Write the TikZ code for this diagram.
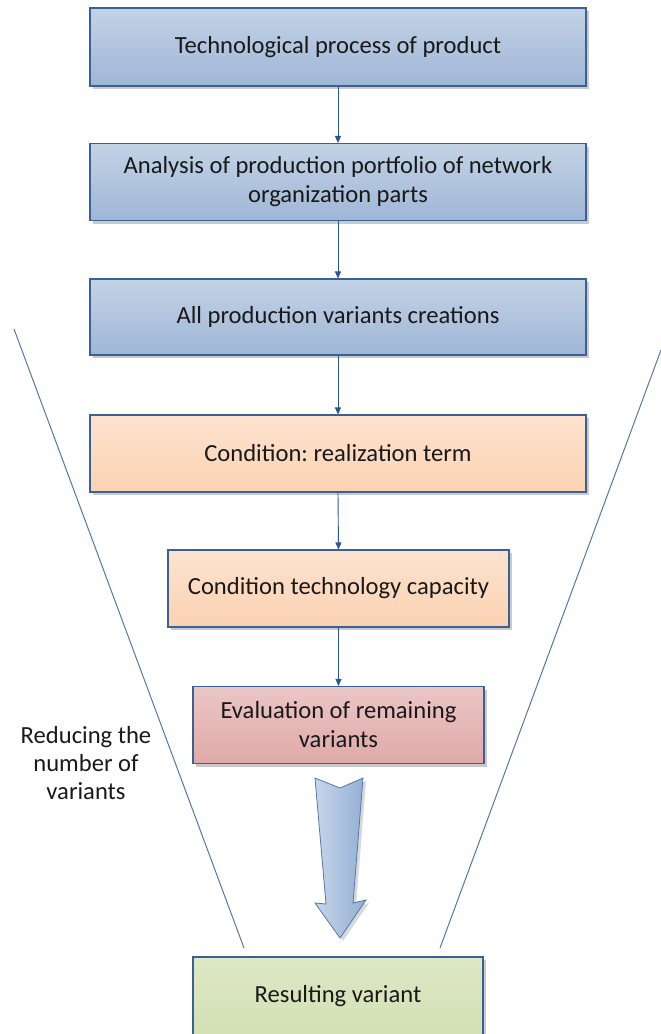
\documentclass[tikz,border=0pt]{standalone}
\usepackage{fontspec}
\setmainfont{Carlito}
\frenchspacing
\usetikzlibrary{arrows.meta,shadows,calc}
\definecolor{bluetop}{HTML}{C3D3E6}
\definecolor{bluebot}{HTML}{9FB6D6}
\definecolor{blueedge}{HTML}{3B6194}
\definecolor{orgtop}{HTML}{FDE3CF}
\definecolor{orgbot}{HTML}{FBD2B2}
\definecolor{pinktop}{HTML}{EBC6C6}
\definecolor{pinkbot}{HTML}{E0A9A9}
\definecolor{grntop}{HTML}{DDE8C6}
\definecolor{grnbot}{HTML}{D3E0B3}
\definecolor{arrowcol}{HTML}{2F5496}
\definecolor{funnelcol}{HTML}{5577A8}
\definecolor{bigtop}{HTML}{C6D6EA}
\definecolor{bigbot}{HTML}{93AED3}
\tikzset{
  box/.style={draw=blueedge, line width=1.1pt, rectangle, align=center,
    font=\fontsize{24.6}{29}\selectfont, text=black!90,
    drop shadow={shadow xshift=3pt, shadow yshift=-3pt, fill=black!35, opacity=0.6}},
  bluebox/.style={box, top color=bluetop, bottom color=bluebot},
  orgbox/.style={box, top color=orgtop, bottom color=orgbot},
  pinkbox/.style={box, top color=pinktop, bottom color=pinkbot},
  grnbox/.style={box, top color=grntop, bottom color=grnbot},
  conn/.style={draw=arrowcol, line width=0.9pt, -{Triangle[length=7pt,width=6pt]}},
  funnel/.style={draw=funnelcol, line width=1pt},
}
\begin{document}
\begin{tikzpicture}[x=1pt,y=-1pt]
\useasboundingbox (0,0) rectangle (661,1034);
% funnel lines
\coordinate (fl1) at (14,329);
\coordinate (fl2) at (244,948);
\coordinate (fr1) at (661,350);
\coordinate (fr2) at (440,948);
\draw[funnel] (fl1) -- (fl2);
\draw[funnel] (fr1) -- (fr2);
% boxes
\node[bluebox, minimum width=496pt, minimum height=78pt] (b1) at (338,47) {Technological process of product};
\node[bluebox, minimum width=496pt, minimum height=77pt] (b2) at (338,182) {Analysis of production portfolio of network\\organization parts};
\node[bluebox, minimum width=496pt, minimum height=76pt] (b3) at (338,317) {All production variants creations};
\node[orgbox, minimum width=496pt, minimum height=77pt] (b4) at (338,453.5) {Condition: realization term};
\node[orgbox, minimum width=341pt, minimum height=77pt] (b5) at (338.5,588.5) {Condition technology capacity};
\node[pinkbox, minimum width=291pt, minimum height=77pt] (b6) at (338.5,725) {Evaluation of remaining\\variants};
\node[grnbox, minimum width=290pt, minimum height=78pt] (b7) at (338,996) {Resulting variant};
% connectors
\draw[conn] (b1.south) -- (b2.north);
\draw[conn] (b2.south) -- (b3.north);
\draw[conn] (b3.south) -- (b4.north);
\draw[conn] (b4.south) -- (b5.north);
\draw[conn] (b5.south) -- (b6.north);
% big block arrow
\fill[black!30, opacity=0.5, xshift=3pt, yshift=-3pt]
  (315,778) -- (340,788) -- (363,778) -- (353,903) -- (366,900) -- (340,938) -- (315,903) -- (326,904) -- cycle;
\draw[draw=funnelcol, line width=0.8pt, left color=bigtop, right color=bigbot]
  (315,778) -- (340,788) -- (363,778) -- (353,903) -- (366,900) -- (340,938) -- (315,903) -- (326,904) -- cycle;
% label
\node[align=center, font=\fontsize{24.6}{28}\selectfont, text=black!90] (lbl) at (86,763) {Reducing the\\number of\\variants};
\end{tikzpicture}
\end{document}
